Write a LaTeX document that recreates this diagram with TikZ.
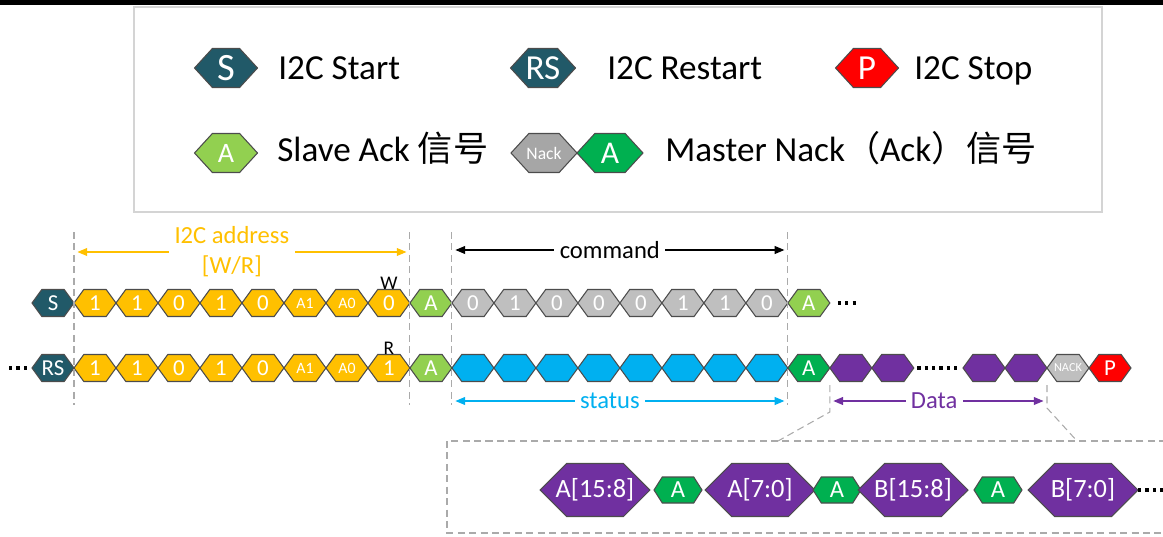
\documentclass[tikz,border=0pt]{standalone}
\usepackage{fontspec}
\setmainfont{Carlito}
\newfontfamily\cjk{Noto Sans CJK SC}
\usepackage{xcolor}
\definecolor{i2cteal}{RGB}{33, 89, 104}
\definecolor{bityellow}{RGB}{255, 192, 0}
\definecolor{ackgreen}{RGB}{146, 208, 80}
\definecolor{mackgreen}{RGB}{0, 176, 80}
\definecolor{cmdgray}{RGB}{191, 191, 191}
\definecolor{nackgray}{RGB}{166, 166, 166}
\definecolor{stcyan}{RGB}{0, 176, 240}
\definecolor{datapurple}{RGB}{112, 48, 160}
\definecolor{stopred}{RGB}{255, 0, 0}
\definecolor{guidegray}{RGB}{170, 170, 170}
\definecolor{framegray}{RGB}{212, 212, 212}
\usetikzlibrary{shapes.symbols, arrows.meta, positioning, calc}
\newcommand\tinybit[1]{{\fontsize{9}{9}\selectfont #1}}
\tikzset{
  hexbase/.style={signal, signal to=west and east, draw=black!70,
    line width=0.6pt, inner xsep=-1cm, inner ysep=0pt, outer sep=0pt, text=white},
  legendhex/.style={hexbase, signal pointer angle=95,
    minimum width=1.26cm, minimum height=0.78cm, font=\fontsize{20}{20}\selectfont},
  legendtext/.style={anchor=base west, inner sep=0pt, font=\fontsize{20}{24}\selectfont},
  bithex/.style={hexbase, signal pointer angle=108,
    minimum width=0.84cm, minimum height=0.54cm, font=\fontsize{13}{13}\selectfont},
  bytehex/.style={hexbase, fill=datapurple, signal pointer angle=90,
    minimum width=2.2cm, minimum height=1.06cm, font=\fontsize{15}{15}\selectfont},
  ackhex/.style={hexbase, fill=mackgreen, signal pointer angle=115,
    minimum width=0.96cm, minimum height=0.52cm, font=\fontsize{14}{14}\selectfont},
  rwlabel/.style={anchor=south, inner sep=0pt, font=\fontsize{11}{11}\selectfont},
  guide/.style={draw=guidegray, line width=0.6pt, dash pattern=on 4pt off 2.5pt},
  spanarrow/.style={line width=0.6pt,
    {Triangle[length=5.5pt,width=4.5pt]}-{Triangle[length=5.5pt,width=4.5pt]},
    shorten <=2pt, shorten >=2pt},
  spanlabel/.style={fill=white, inner xsep=3pt, inner ysep=1pt, align=center,
    font=\fontsize{14}{17}\selectfont},
  dotline/.style={line width=1.8pt, dash pattern=on 1.8pt off 2.4pt},
  legendframe/.style={draw=framegray, line width=0.8pt}
}

\begin{document}
\begin{tikzpicture}[x=0.02cm, y=-0.02cm]
  \useasboundingbox (0,0) rectangle (1163,537);
  \clip (0,0) rectangle (1163,537);
  \fill[black] (0,0) rectangle (1163,5);

  % legend
  \draw[legendframe] (134,7) rectangle (1102,212);
  \node[legendhex, fill=i2cteal, font=\fontsize{22}{22}\selectfont] (lgs) at (226,68) {S};
  \node[legendtext] (lgstext) at (278,80) {I2C Start};
  \node[legendhex, fill=i2cteal, minimum width=1.3cm] (lgrs) at (543,68) {RS};
  \node[legendtext] (lgrstext) at (607,80) {I2C Restart};
  \node[legendhex, fill=stopred] (lgp) at (867,68) {P};
  \node[legendtext] (lgptext) at (914,80) {I2C Stop};
  \node[legendhex, fill=ackgreen, font=\fontsize{16}{16}\selectfont] (lga) at (226,153) {A};
  \node[legendtext] (lgatext) at (277,161) {Slave Ack {\cjk 信号}};
  \node[legendhex, fill=nackgray, minimum width=1.32cm, font=\fontsize{10}{10}\selectfont] (lgnack) at (544,153) {Nack};
  \node[legendhex, fill=mackgreen, minimum width=1.32cm, font=\fontsize{18}{18}\selectfont, right=0pt of lgnack] (lgma) {A};
  \node[legendtext] (lgmatext) at (665,161) {Master Nack{\cjk （}Ack{\cjk ）信号}};

  % write: address + command
  \node[bithex, fill=i2cteal] (wa0) at (53,303) {S};
  \foreach \b [count=\i, remember=\i as \k (initially 0)] in {1,1,0,1,0,\tinybit{A1},\tinybit{A0},0}
    \node[bithex, fill=bityellow, right=0pt of wa\k] (wa\i) {\b};
  \node[rwlabel] (wlab) at (wa8.north) {W};
  \node[bithex, fill=ackgreen, right=0pt of wa8] (wack) {A};
  \coordinate (wc0) at (wack.east);
  \foreach \b [count=\i, remember=\i as \k (initially 0)] in {0,1,0,0,0,1,1,0}
    \node[bithex, fill=cmdgray, right=0pt of wc\k] (wc\i) {\b};
  \node[bithex, fill=ackgreen, right=0pt of wc8] (wack2) {A};
  \draw[dotline] ($(wack2.east)+(8,0)$) -- ++(22,0);

  % read: address + status + data
  \node[bithex, fill=i2cteal] (ra0) at (53,368) {RS};
  \draw[dotline] ($(ra0.west)+(-23,0)$) -- ++(21,0);
  \foreach \b [count=\i, remember=\i as \k (initially 0)] in {1,1,0,1,0,\tinybit{A1},\tinybit{A0},1}
    \node[bithex, fill=bityellow, right=0pt of ra\k] (ra\i) {\b};
  \node[rwlabel] (rlab) at (ra8.north) {R};
  \node[bithex, fill=ackgreen, right=0pt of ra8] (rack) {A};
  \coordinate (rc0) at (rack.east);
  \foreach \i [remember=\i as \k (initially 0)] in {1,...,8}
    \node[bithex, fill=stcyan, right=0pt of rc\k] (rc\i) {};
  \node[bithex, fill=mackgreen, right=0pt of rc8] (rack2) {A};
  \node[bithex, fill=datapurple, right=0pt of rack2] (rd1) {};
  \node[bithex, fill=datapurple, right=0pt of rd1] (rd2) {};
  \node[bithex, fill=datapurple] (rd3) at (984,368) {};
  \node[bithex, fill=datapurple, right=0pt of rd3] (rd4) {};
  \node[bithex, fill=cmdgray, font=\fontsize{7}{7}\selectfont, right=0pt of rd4] (rnack) {NACK};
  \node[bithex, fill=stopred, right=0pt of rnack] (rstop) {P};
  \draw[dotline, shorten <=2pt, shorten >=2pt] (rd2.east) -- (rd3.west);

  % guides and spans
  \coordinate (gtop) at (0,232);
  \coordinate (gbot) at (0,405);
  \foreach \a/\b in {wa1.west/ra1.west, wa8.east/ra8.east, wc1.west/rc1.west, wc8.east/rc8.east}
    \draw[guide] (\a |- gtop) -- (\b |- gbot);
  \coordinate (aline) at (0,252);
  \coordinate (cline) at (0,250);
  \coordinate (sline) at (0,401);
  \draw[spanarrow, draw=bityellow] (wa1.west |- aline) -- (wa8.east |- aline)
    node[spanlabel, pos=0.47, text=bityellow] (addrlab) {I2C address\\{[W/R]}};
  \draw[spanarrow, draw=black] (wc1.west |- cline) -- (wc8.east |- cline)
    node[spanlabel, pos=0.47] (cmdlab) {command};
  \draw[spanarrow, draw=stcyan] (rc1.west |- sline) -- (rc8.east |- sline)
    node[spanlabel, pos=0.47, text=stcyan] (stlab) {status};
  \draw[spanarrow, draw=datapurple] (rd1.west |- sline) -- (rd4.east |- sline)
    node[spanlabel, pos=0.48, text=datapurple] (datalab) {Data};

  % zoomed data bytes
  \coordinate (dtop) at (0,385);
  \coordinate (zl) at (778,441);
  \coordinate (zr) at (1077,441);
  \draw[guide] (rd1.west |- dtop) -- (rd1.west |- 0,412) -- (zl);
  \draw[guide] (rd4.east |- dtop) -- (rd4.east |- 0,408) -- (zr);
  \draw[guide] (447,441) rectangle (1200,533);
  \node[bytehex] (za) at (595,490) {A[15:8]};
  \node[ackhex] (zack1) at (678,490) {A};
  \node[bytehex] (zb) at (760,490) {A[7:0]};
  \node[ackhex] (zack2) at (837,490) {A};
  \node[bytehex] (zc) at (913,490) {B[15:8]};
  \node[ackhex] (zack3) at (998,490) {A};
  \node[bytehex] (zd) at (1083,490) {B[7:0]};
  \draw[dotline] (zd.east) -- ++(30,0);
\end{tikzpicture}
\end{document}
